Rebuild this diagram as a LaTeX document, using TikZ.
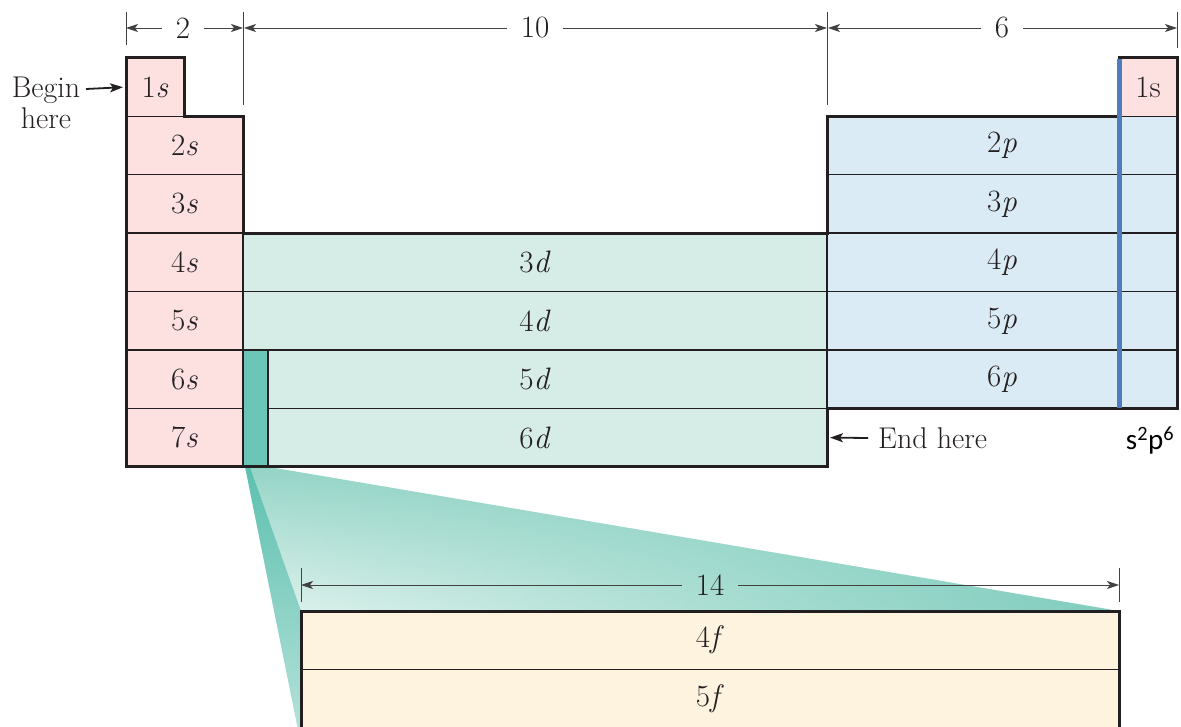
\documentclass[tikz,border=0pt]{standalone}
\usepackage{fontspec}
\newfontfamily\carlito{Carlito}
\usetikzlibrary{arrows.meta,fadings}
\definecolor{pinkc}{HTML}{FDE1E1}
\definecolor{dcol}{HTML}{D6ECE7}
\definecolor{pcol}{HTML}{DAEBF5}
\definecolor{fcol}{HTML}{FDF3DF}
\definecolor{stripc}{HTML}{6CC6B7}
\definecolor{bluec}{HTML}{4E7DBE}
\definecolor{inkc}{HTML}{231F20}
\definecolor{wtop}{HTML}{96D5C8}
\definecolor{wdark}{HTML}{80CDBE}
\definecolor{wlight}{HTML}{E0F3EE}
\definecolor{sdark}{HTML}{5CC0AF}
\definecolor{slight}{HTML}{B8E3DA}
\tikzset{
  cell/.style={draw=inkc, line width=1.4pt, inner sep=0pt, outer sep=0pt,
    minimum height=58.4pt, text=inkc, font=\fontsize{31}{36}\selectfont},
  outline/.style={draw=inkc, line width=3pt, line join=miter},
  dimline/.style={draw=inkc!85, line width=0.9pt, -{Stealth[length=12pt,width=8pt,inset=3pt]}},
  tick/.style={draw=inkc!85, line width=0.9pt},
  dimlab/.style={inner sep=0pt, outer sep=14pt, text=inkc, font=\fontsize{31}{36}\selectfont},
  ptr/.style={draw=inkc, line width=1.8pt, -{Stealth[length=13pt,width=9pt,inset=3pt]}},
  txt/.style={text=inkc, font=\fontsize{30}{31}\selectfont, inner sep=0pt}
}
\begin{document}
\begin{tikzpicture}[x=1pt,y=-1pt]
\useasboundingbox (0,0) rectangle (1181,727);
% wedge (expanded f-block view)
\shade[top color=wtop, bottom color=wlight]
  (250,466.8) -- (268,466.8) -- (1119,611) -- (301,611) -- cycle;
\fill[wdark, path fading=west]
  (250,466.8) -- (268,466.8) -- (1119,611) -- (301,611) -- cycle;
\shade[top color=sdark, bottom color=slight]
  (245,466.8) -- (250,466.8) -- (301,611) -- (301,740) -- (300,740) -- cycle;
% s block
\node[cell, fill=pinkc, minimum width=58pt] (s1) at (155,87.2) {1\textit{s}};
\foreach \r in {2,...,7}
  \node[cell, fill=pinkc, minimum width=117pt] (s\r) at (184.5,{87.2+58.4*(\r-1)}) {\r\textit{s}};
% p block
\foreach \r in {2,...,6}
  \node[cell, fill=pcol, minimum width=350pt] (p\r) at (1002,{87.2+58.4*(\r-1)}) {\r\textit{p}};
\node[cell, fill=pinkc, minimum width=58pt] (h1) at (1148,87.2) {1s};
% d block
\foreach \r in {4,...,7}{
  \pgfmathtruncatemacro{\n}{\r-1}
  \node[cell, fill=dcol, minimum width=584pt] (d\r) at (535,{87.2+58.4*(\r-1)}) {\n\textit{d}};
}
\node[cell, fill=stripc, minimum width=25pt, minimum height=116.8pt] (strip) at (255.5,408.4) {};
% f block
\node[cell, fill=fcol, minimum width=818pt] (f4) at (710,640.2) {4\textit{f}};
\node[cell, fill=fcol, minimum width=818pt] (f5) at (710,698.6) {5\textit{f}};
% outlines
\path[outline] (s1.north west) -- (s1.north east) -- (s1.south east) -- (s2.north east)
  -- (s4.north east) -- (d4.north east) -- (p2.north west) -- (h1.south west) -- (h1.north west)
  -- (h1.north east) -- (p6.south east) -- (p6.south west) -- (d7.south east) -- (s7.south west) -- cycle;
\path[outline] (f4.north west) rectangle (1119,740);
% blue line
\coordinate (bl1) at (h1.north west);
\coordinate (bl2) at (p6.south west -| h1.west);
\draw[bluec, line width=5pt] ([yshift=-1pt]bl1) -- (bl2);
% dimension lines
\coordinate (t1) at (126,28); \coordinate (t2) at (243,28);
\coordinate (t3) at (827,28); \coordinate (t4) at (1177,28);
\draw[tick] (126,12) -- (126,45);
\draw[tick] (243,12) -- (243,105);
\draw[tick] (827,12) -- (827,105);
\draw[tick] (1177,12) -- (1177,48);
\node[dimlab] (n2) at (183,28) {2};
\node[dimlab] (n10) at (535,28) {10};
\node[dimlab] (n6) at (1002,28) {6};
\draw[dimline] (n2) -- (t1); \draw[dimline] (n2) -- (t2);
\draw[dimline] (n10) -- ([xshift=1pt]t2); \draw[dimline] (n10) -- (t3);
\draw[dimline] (n6) -- ([xshift=1pt]t3); \draw[dimline] (n6) -- (t4);
\coordinate (u1) at (301,585); \coordinate (u2) at (1119,585);
\draw[tick] (301,568) -- (301,602);
\draw[tick] (1119,568) -- (1119,602);
\node[dimlab] (n14) at (710,585) {14};
\draw[dimline] (n14) -- (u1); \draw[dimline] (n14) -- (u2);
% pointers
\node[txt, align=center] (begin) at (46,103) {Begin\\here};
\coordinate (bgs) at (86,89);
\draw[ptr] (bgs) -- ([xshift=-3pt]s1.west);
\node[txt, anchor=west] (end) at (878,438) {End here};
\draw[ptr] ([xshift=-10pt]end.west) -- ([xshift=3pt]d7.east);
\node[text=black, font=\carlito\fontsize{29}{32}\selectfont, inner sep=0pt] (sp) at (1150,440) {s\textsuperscript{2}p\textsuperscript{6}};
\end{tikzpicture}
\end{document}
